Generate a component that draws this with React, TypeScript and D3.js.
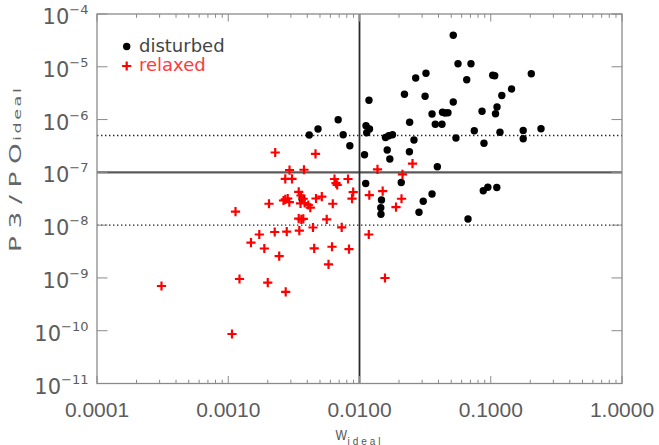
import React from 'react';
import * as d3 from 'd3';

// Cluster samples: [w_ideal, P3/P0_ideal]
const disturbed: [number, number][] = [
  [0.0518, 3.95e-5], [0.0563, 1.145e-5], [0.0707, 1.145e-5], [0.0321, 7.53e-6],
  [0.0268, 6.13e-6], [0.0656, 5.69e-6], [0.1035, 6.9e-6], [0.1072, 6.78e-6],
  [0.2037, 7.4e-6], [0.022, 3.01e-6], [0.0316, 2.76e-6], [0.1439, 3.8e-6],
  [0.1214, 2.86e-6], [0.0518, 2.15e-6], [0.0357, 1.275e-6], [0.0429, 1.373e-6],
  [0.0448, 1.332e-6], [0.0472, 1.35e-6], [0.0858, 1.44e-6], [0.1116, 1.73e-6],
  [0.1087, 1.29e-6], [0.0241, 8.88e-7], [0.0378, 8.17e-7], [0.0425, 8.17e-7],
  [0.0749, 6.13e-7], [0.1767, 6.21e-7], [0.2415, 6.69e-7], [0.1176, 5.74e-7],
  [0.0543, 4.48e-7], [0.1767, 4.34e-7], [0.0888, 3.57e-7], [0.01578, 4.58e-7],
  [0.01671, 4.93e-7], [0.01784, 5.15e-7], [0.026, 4.1e-7], [0.01626, 2.65e-7],
  [0.024, 2.46e-7], [0.01702, 1.79e-7], [0.0392, 1.274e-7], [0.0208, 6.43e-8],
  [0.0357, 3.89e-8], [0.0306, 2.83e-8], [0.0284, 1.76e-8], [0.0877, 4.49e-8],
  [0.095, 5.21e-8], [0.1112, 5.16e-8], [0.0671, 1.31e-8], [0.01471, 3.0e-8],
  [0.01453, 2.14e-8], [0.01457, 1.605e-8], [0.01181, 2.32e-6], [0.00688, 9.9e-7],
  [0.01121, 7.62e-7], [0.01192, 6.63e-7], [0.01135, 5.64e-7], [0.00751, 5.15e-7],
  [0.00844, 3.2e-7], [0.01092, 2.15e-7], [0.01115, 6.15e-8], [0.00414, 5.1e-7],
  [0.00483, 6.63e-7], [0.00365, 3.13e-8],
];

const relaxed: [number, number][] = [
  [0.00031, 7.03e-10], [0.001068, 8.67e-11], [0.001136, 1.8e-8], [0.001218, 9.54e-10],
  [0.00149, 4.65e-9], [0.001724, 6.65e-9], [0.001883, 3.61e-9], [0.002, 8.12e-10],
  [0.002044, 2.54e-8], [0.00226, 7.42e-9], [0.002279, 2.38e-7], [0.002444, 2.58e-9],
  [0.002636, 2.93e-8], [0.00272, 3.09e-8], [0.002838, 3.2e-8], [0.002919, 2.74e-8],
  [0.00272, 7.55e-8], [0.003059, 7.55e-8], [0.00293, 1.1e-7], [0.00274, 5.46e-10],
  [0.00279, 7.51e-9], [0.003443, 4.28e-8], [0.003584, 3.64e-8], [0.003724, 3.16e-8],
  [0.003553, 2.59e-8], [0.003478, 7.85e-9], [0.003443, 1.325e-8], [0.003603, 1.29e-8],
  [0.00373, 1.31e-8], [0.003776, 1.12e-7], [0.003823, 2.63e-8], [0.004074, 2.41e-8],
  [0.004219, 2.14e-8], [0.004423, 9.03e-9], [0.004518, 3.64e-9], [0.004622, 2.23e-7],
  [0.004663, 3.2e-8], [0.005162, 3.46e-8], [0.005626, 1.29e-8], [0.005806, 1.8e-9],
  [0.006173, 3.9e-9], [0.00626, 2.54e-8], [0.006449, 7.48e-8], [0.006622, 6.23e-8],
  [0.006762, 5.76e-8], [0.007318, 9.11e-9], [0.008175, 7.48e-8], [0.008318, 3.5e-9],
  [0.008954, 4.24e-8], [0.008769, 3.17e-8], [0.01177, 6.65e-9], [0.01188, 3.72e-8],
  [0.01371, 1.14e-7], [0.01502, 4.4e-8], [0.01564, 9.97e-10], [0.01897, 2.19e-8],
  [0.0209, 3.16e-8], [0.02126, 9.19e-8], [0.02534, 1.46e-7],
];

const xTickValues = [1e-4, 1e-3, 1e-2, 1e-1, 1];
const xTickLabels = ['0.0001', '0.0010', '0.0100', '0.1000', '1.0000'];
const yTickExponents = [-4, -5, -6, -7, -8, -9, -10, -11];
const legendLabels = ['disturbed', 'relaxed'];

// Reference cuts
const wCut = 0.01;
const pCut = 1e-7;
const pBand = [5e-7, 1e-8];

const WIDTH = 659;
const HEIGHT = 445;
const PLOT = { left: 97, right: 622, top: 14, bottom: 383.5 };

const AXIS_GRAY = '#8a8a8a';
const TEXT_GRAY = '#555';
const RED = '#ff0000';

export default function App() {
  const x = d3.scaleLog().domain([1e-4, 1]).range([PLOT.left, PLOT.right]);
  const y = d3.scaleLog().domain([1e-11, 1e-4]).range([PLOT.bottom, PLOT.top]);

  const xMinor: number[] = [];
  for (let e = -4; e < 0; e++) {
    for (let m = 2; m <= 9; m++) xMinor.push(m * Math.pow(10, e));
  }

  const plus = (s: number) => `M${-s},0H${s}M0,${-s}V${s}`;

  return (
    <svg
      width={WIDTH}
      height={HEIGHT}
      style={{ position: 'fixed', left: 0, top: 0, background: '#fff' }}
      fontFamily="'Liberation Sans', Arial, sans-serif"
    >
      <rect x={0} y={0} width={WIDTH} height={HEIGHT} fill="#fff" />

      {/* reference lines */}
      {pBand.map((v) => (
        <line
          key={v}
          x1={PLOT.left}
          x2={PLOT.right}
          y1={y(v)}
          y2={y(v)}
          stroke="#222"
          strokeWidth={1.4}
          strokeDasharray="1.4 2.6"
        />
      ))}
      <line x1={PLOT.left} x2={PLOT.right} y1={y(pCut)} y2={y(pCut)} stroke="#5a5a5a" strokeWidth={2.2} />
      <line x1={x(wCut)} x2={x(wCut)} y1={PLOT.top} y2={PLOT.bottom} stroke="#2a2a2a" strokeWidth={1.8} />

      {/* frame */}
      <rect
        x={PLOT.left}
        y={PLOT.top}
        width={PLOT.right - PLOT.left}
        height={PLOT.bottom - PLOT.top}
        fill="none"
        stroke={AXIS_GRAY}
        strokeWidth={1.3}
      />

      {/* x ticks, bottom and top */}
      {xTickValues.map((v) => (
        <g key={'xt' + v} stroke={AXIS_GRAY} strokeWidth={1}>
          <line x1={x(v)} x2={x(v)} y1={PLOT.bottom} y2={PLOT.bottom - 7.5} />
          <line x1={x(v)} x2={x(v)} y1={PLOT.top} y2={PLOT.top + 7.5} />
        </g>
      ))}
      {xMinor.map((v) => (
        <g key={'xm' + v} stroke={AXIS_GRAY} strokeWidth={1}>
          <line x1={x(v)} x2={x(v)} y1={PLOT.bottom} y2={PLOT.bottom - 3.8} />
          <line x1={x(v)} x2={x(v)} y1={PLOT.top} y2={PLOT.top + 3.8} />
        </g>
      ))}

      {/* y ticks, left and right */}
      {yTickExponents.map((e) => {
        const yy = y(Math.pow(10, e));
        return (
          <g key={'yt' + e} stroke={AXIS_GRAY} strokeWidth={1}>
            <line x1={PLOT.left} x2={PLOT.left + 10.5} y1={yy} y2={yy} />
            <line x1={PLOT.right} x2={PLOT.right - 10.5} y1={yy} y2={yy} />
          </g>
        );
      })}

      {/* x tick labels */}
      {xTickValues.map((v, i) => (
        <text key={'xl' + v} x={x(v)} y={416.5} textAnchor="middle" fontSize={21} fill="#5c5c5c">
          {xTickLabels[i]}
        </text>
      ))}

      {/* y tick labels */}
      {yTickExponents.map((e) => {
        const yy = y(Math.pow(10, e));
        return (
          <text
            key={'yl' + e}
            x={88.5}
            y={yy + 10}
            textAnchor="end"
            fill="#5c5c5c"
            fontFamily="'DejaVu Sans', sans-serif"
            fontSize={21}
          >
            10
            <tspan fontSize={13} dy={-10}>
              {'\u2212' + Math.abs(e)}
            </tspan>
          </text>
        );
      })}

      {/* axis titles: wide glyphs along the rotated baseline */}
      <text
        transform="translate(21,252) rotate(-90) scale(1.6,1)"
        fontSize={16.5}
        fill="#666"
        textLength={68}
        lengthAdjust="spacing"
        fontFamily="'DejaVu Sans', sans-serif"
      >
        P3/PO
      </text>
      <text
        transform="translate(20.5,141) rotate(-90) scale(1.6,1)"
        fontSize={11}
        fill="#666"
        textLength={33}
        lengthAdjust="spacing"
        fontFamily="'DejaVu Sans', sans-serif"
      >
        ideal
      </text>
      <text x={335.5} y={439.5} fontSize={14} fill={TEXT_GRAY} textLength={11.5} lengthAdjust="spacingAndGlyphs">
        W
      </text>
      <text x={347.5} y={444.5} fontSize={10} fill={TEXT_GRAY} textLength={33} lengthAdjust="spacing">
        ideal
      </text>

      {/* data */}
      <g clipPath="url(#plotClip)">
        {disturbed.map(([w, p], i) => (
          <circle key={'d' + i} cx={x(w)} cy={y(p)} r={3.7} fill="#000" />
        ))}
        {relaxed.map(([w, p], i) => (
          <path
            key={'r' + i}
            d={plus(4.6)}
            transform={`translate(${x(w)},${y(p)})`}
            stroke={RED}
            strokeWidth={2.2}
            fill="none"
          />
        ))}
      </g>
      <defs>
        <clipPath id="plotClip">
          <rect x={PLOT.left} y={PLOT.top} width={PLOT.right - PLOT.left} height={PLOT.bottom - PLOT.top} />
        </clipPath>
      </defs>

      {/* legend */}
      <circle cx={126.7} cy={46.5} r={3.7} fill="#000" />
      <text x={139} y={51.7} fontFamily="'DejaVu Sans', sans-serif" fontSize={18} fill="#444">
        {legendLabels[0]}
      </text>
      <path d={plus(4.6)} transform="translate(126.7,66)" stroke={RED} strokeWidth={2.2} fill="none" />
      <text x={139} y={70.7} fontFamily="'DejaVu Sans', sans-serif" fontSize={18} fill="#ff3a3a">
        {legendLabels[1]}
      </text>
    </svg>
  );
}
